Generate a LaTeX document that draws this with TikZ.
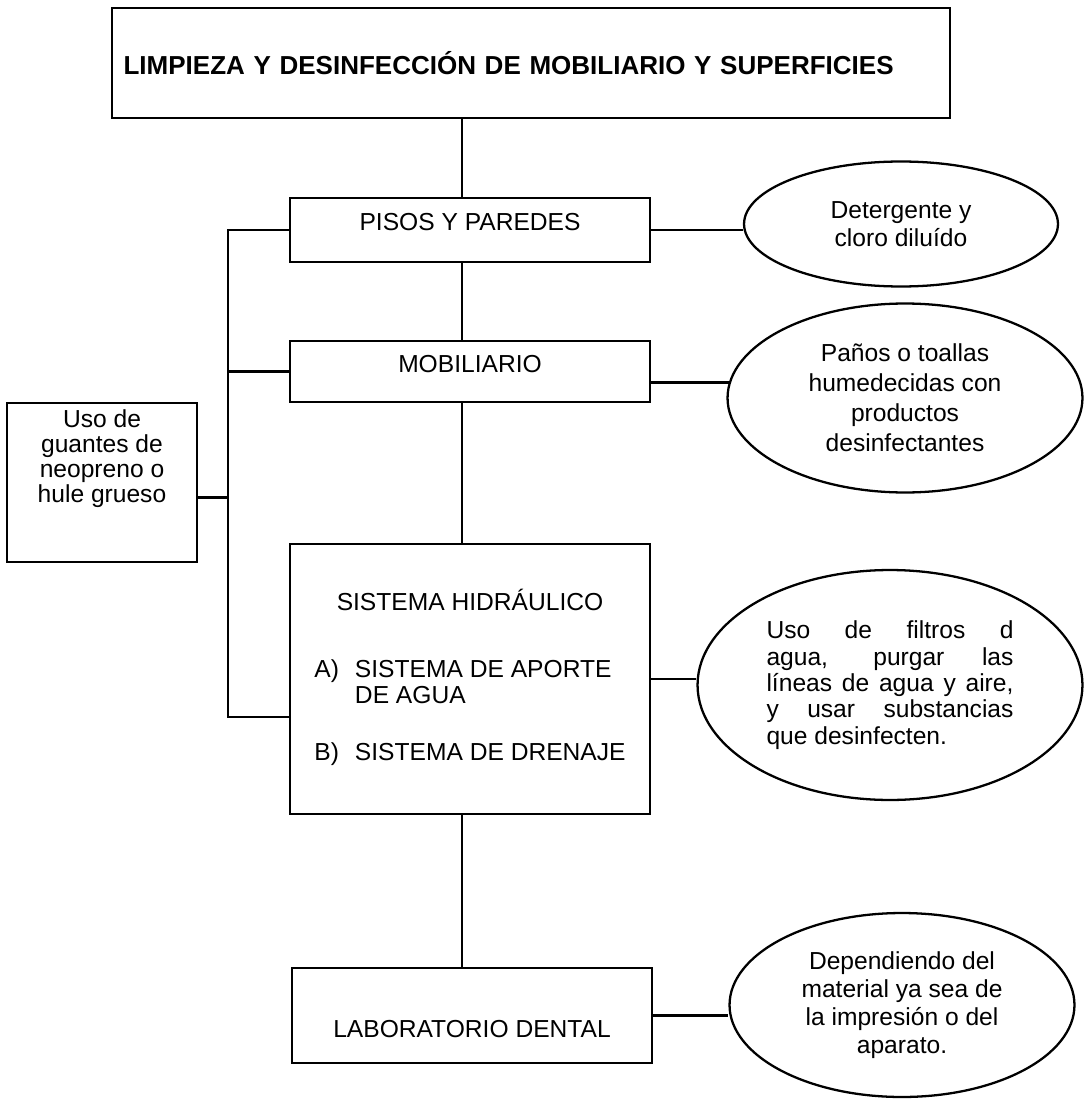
\documentclass[tikz,border=0pt]{standalone}
\usepackage{fontspec}
\setmainfont{Liberation Sans}
\usetikzlibrary{shapes.geometric}

\begin{document}
\begin{tikzpicture}[x=0.02cm,y=-0.02cm,line width=1.3pt]
                        \tikzstyle{caja} = [rectangle,draw=black,inner sep=0pt,minimum width=7.2cm,font=\fontsize{14}{16}\selectfont];
                        \tikzstyle{globo} = [ellipse,draw=black,inner sep=0pt,align=center];
                        \useasboundingbox (0,0) rectangle (1084,1101);
                        \node[caja,minimum width=16.76cm,minimum height=2.2cm,text width=16.3cm,align=left,font=\bfseries\fontsize{14.8}{18}\selectfont] (titulo) at (531,63) {LIMPIEZA Y DESINFECCIÓN DE MOBILIARIO Y SUPERFICIES};
                        \node[caja,minimum height=1.28cm,text depth=0.32cm] (pisos) at (470,230) {PISOS Y PAREDES};
                        \node[caja,minimum height=1.22cm,text depth=0.32cm] (mobil) at (470,371.5) {MOBILIARIO};
                        \node[caja,minimum height=5.4cm,align=center] (hidra) at (470,679) {SISTEMA HIDRÁULICO\\[22pt]\renewcommand{\arraystretch}{0.92}\begin{tabular}[t]{@{}l@{\hspace{0.32cm}}l@{}}A) & SISTEMA DE APORTE\\ & DE AGUA\\[18pt]B) & SISTEMA DE DRENAJE\end{tabular}};
                        \node[caja,minimum height=1.9cm,text height=0.9cm] (lab) at (472,1015.5) {LABORATORIO DENTAL};
                        \node[caja,minimum width=3.8cm,minimum height=3.18cm] (guantes) at (102,482.5) {\parbox[c][2.9cm][t]{3.6cm}{\centering\fontsize{14}{14.2}\selectfont Uso de\\guantes de\\neopreno o\\hule grueso}};
                        \node[globo,minimum width=6.28cm,minimum height=2.5cm,font=\fontsize{14}{16}\selectfont] (deter) at (901,224) {Detergente y\\cloro diluído};
                        \node[globo,minimum width=7.1cm,minimum height=3.78cm,font=\fontsize{14}{17}\selectfont] (panos) at (905,398) {Paños o toallas\\humedecidas con\\productos\\desinfectantes};
                        \node[globo,minimum width=7.7cm,minimum height=4.6cm,font=\fontsize{14}{15}\selectfont] (filtros) at (890,685) {\makebox[4.94cm][s]{Uso de filtros d}\\\makebox[4.94cm][s]{agua, purgar las}\\\makebox[4.94cm][s]{líneas de agua y aire,}\\\makebox[4.94cm][s]{y usar substancias}\\\makebox[4.94cm][l]{que desinfecten.}};
                        \node[globo,minimum width=6.9cm,minimum height=3.68cm,font=\fontsize{14}{16}\selectfont] (depende) at (902,1005) {Dependiendo del\\material ya sea de\\la impresión o del\\aparato.};
                        \coordinate (eje) at (462,0);
                        \coordinate (brazo) at (228,0);
                        \coordinate (entrada) at ([yshift=-0.76cm]hidra.west);
                        \draw (titulo.south -| eje) -- (pisos.north -| eje);
                        \draw (pisos.south -| eje) -- (mobil.north -| eje);
                        \draw (mobil.south -| eje) -- (hidra.north -| eje);
                        \draw (hidra.south -| eje) -- (lab.north -| eje);
                        \draw (pisos.east) -- (pisos.east -| deter.west);
                        \draw (panos.175) -- (panos.175 -| mobil.east);
                        \draw (hidra.east) -- (hidra.east -| filtros.west);
                        \draw (lab.east) -- (lab.east -| depende.west);
                        \draw (pisos.west) -| (brazo |- entrada) -- (entrada);
                        \draw (mobil.west) -- (mobil.west -| brazo);
                        \draw ([yshift=-0.3cm]guantes.east) -- ([yshift=-0.3cm]guantes.east -| brazo);
                    \end{tikzpicture}
\end{document}
